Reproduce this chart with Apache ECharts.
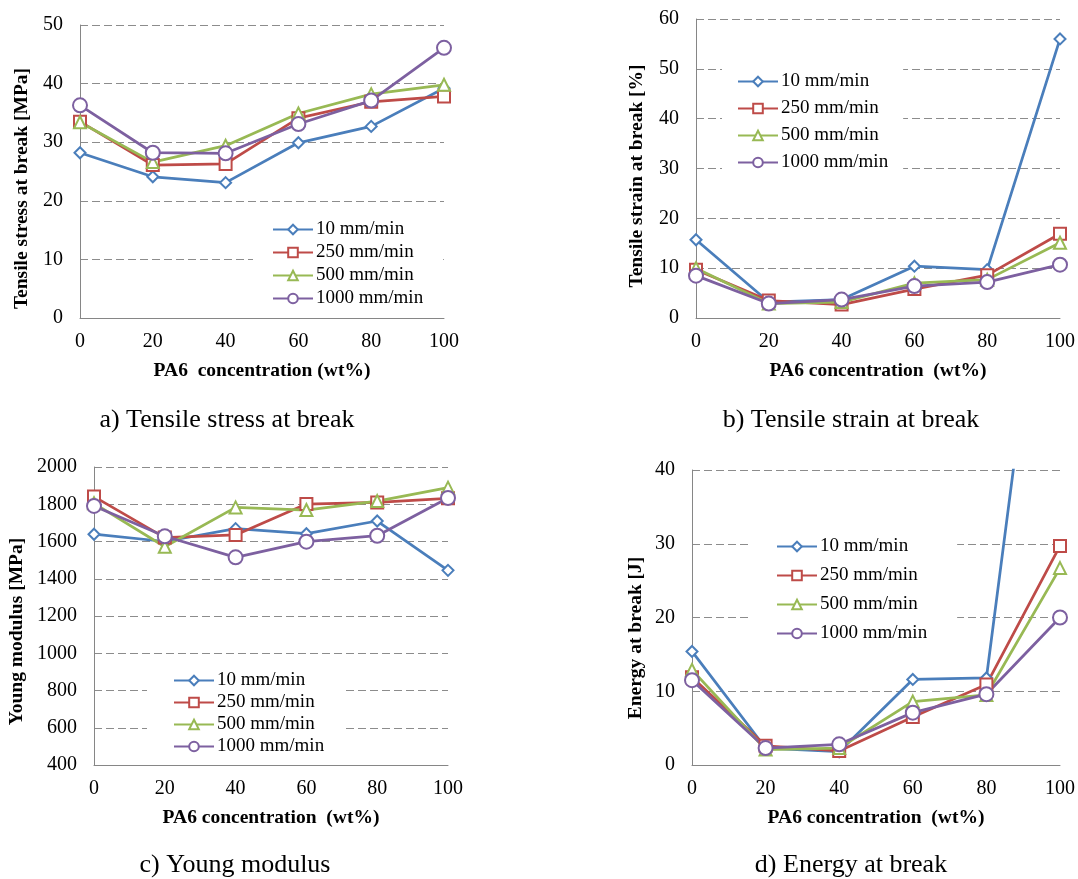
<!DOCTYPE html>
<html>
<head>
<meta charset="utf-8">
<script src="https://cdn.jsdelivr.net/npm/echarts@6/dist/echarts.min.js"></script>
<style>
  html, body { margin: 0; padding: 0; background: #fff; }
  #chart { width: 1078px; height: 879px; }
</style>
</head>
<body>
<div id="chart"></div>
<script>
// PA6 concentration (wt%)
const conc = [0, 20, 40, 60, 80, 100];
const rates = ["10 mm/min", "250 mm/min", "500 mm/min", "1000 mm/min"];

// a) tensile stress at break [MPa]
const stress10 = [28.2, 24.1, 23.1, 29.9, 32.7, 39.2];
const stress250 = [33.5, 26.1, 26.3, 34.1, 36.9, 37.8];
const stress500 = [33.4, 26.6, 29.4, 34.9, 38.2, 39.8];
const stress1000 = [36.3, 28.2, 28.1, 33.1, 37.1, 46.1];

// b) tensile strain at break [%]
const strain10 = [15.7, 3.2, 3.7, 10.4, 9.7, 56.0];
const strain250 = [9.7, 3.5, 2.7, 5.8, 8.6, 16.9];
const strain500 = [10.0, 2.9, 3.2, 7.0, 7.7, 15.1];
const strain1000 = [8.5, 2.9, 3.7, 6.4, 7.2, 10.7];

// c) young modulus [MPa]
const modulus10 = [1639, 1600, 1669, 1642, 1710, 1445];
const modulus250 = [1841, 1621, 1635, 1801, 1810, 1832];
const modulus500 = [1805, 1572, 1783, 1769, 1817, 1889];
const modulus1000 = [1791, 1628, 1515, 1599, 1631, 1834];

// d) energy at break [J] (10 mm/min at 100 runs off the top)
const energy10 = [15.4, 2.3, 1.8, 11.6, 11.8, 89.0];
const energy250 = [11.9, 2.6, 1.9, 6.5, 10.9, 29.7];
const energy500 = [12.9, 2.1, 2.3, 8.6, 9.5, 26.7];
const energy1000 = [11.5, 2.3, 2.8, 7.1, 9.6, 20.0];

const captions = ["a) Tensile stress at break", "b) Tensile strain at break", "c) Young modulus", "d) Energy at break"];

const colors = ["#4a7ebb", "#be4b48", "#98b954", "#7d60a0"];
const symbols = ["emptyDiamond", "emptyRect", "emptyTriangle", "emptyCircle"];
const symSizes = [11, 12, 12, 14];
const FONT = "'Liberation Serif', 'Times New Roman', serif";

// nameShift: pushes the rotated y title down the axis (it sits below centre in the original)
const panels = [
  { grid: { left: 80, top: 25, width: 364, height: 293 }, y: { min: 0, max: 50, interval: 10 },
    name: "Tensile stress at break [MPa]", nameGap: 48, nameShift: 34, xname: "PA6  concentration (wt%)",
    sets: [stress10, stress250, stress500, stress1000],
    legend: { left: 253, top: 216, padding: [4, 20, 4, 19], itemGap: 4 },
    cap: [227, 420] },
  { grid: { left: 696, top: 19, width: 364, height: 299 }, y: { min: 0, max: 60, interval: 10 },
    name: "Tensile strain at break [%]", nameGap: 49, nameShift: 15, xname: "PA6 concentration  (wt%)",
    sets: [strain10, strain250, strain500, strain1000],
    legend: { left: 722, top: 64, padding: [8, 15, 4, 15], itemGap: 8 },
    cap: [851, 420] },
  { grid: { left: 94, top: 467, width: 354, height: 298 }, y: { min: 400, max: 2000, interval: 200 },
    name: "Young modulus [MPa]", nameGap: 67, nameShift: 31, xname: "PA6 concentration  (wt%)",
    sets: [modulus10, modulus250, modulus500, modulus1000],
    legend: { left: 147, top: 666, padding: [5, 21, 5, 26], itemGap: 3 },
    cap: [235, 865] },
  { grid: { left: 692, top: 470, width: 368, height: 295 }, y: { min: 0, max: 40, interval: 10 },
    name: "Energy at break [J]", nameGap: 46, nameShift: 41, xname: "PA6 concentration  (wt%)",
    sets: [energy10, energy250, energy500, energy1000],
    legend: { left: 748, top: 532, padding: [5, 30, 5, 28], itemGap: 10 },
    cap: [851, 865] }
];

const axisLine = { show: true, lineStyle: { color: "#868686", width: 1 } };
const label = { color: "#000", fontFamily: FONT, fontSize: 20, formatter: (v) => String(v) };
const nameStyle = { color: "#000", fontFamily: FONT, fontSize: 19.5, fontWeight: "bold" };

const option = {
  animation: false,
  backgroundColor: "#fff",
  grid: panels.map((p) => ({ ...p.grid, containLabel: false })),
  xAxis: panels.map((p, i) => ({
    type: "value", gridIndex: i, min: 0, max: 100, interval: 20,
    axisLine, axisTick: { show: false }, splitLine: { show: false },
    axisLabel: { ...label, margin: 14 },
    name: p.xname, nameLocation: "middle", nameGap: 43, nameTextStyle: nameStyle
  })),
  yAxis: panels.map((p, i) => ({
    type: "value", gridIndex: i, ...p.y,
    axisLine, axisTick: { show: false },
    splitLine: { show: true, lineStyle: { color: "#8c8c8c", width: 1, type: [8, 4] } },
    axisLabel: { ...label, margin: 17 },
    name: p.name, nameLocation: "middle", nameRotate: 90, nameGap: p.nameGap,
    nameTextStyle: { ...nameStyle, padding: [0, p.nameShift, 0, 0] }
  })),
  legend: panels.map((p) => ({
    orient: "vertical", ...p.legend, backgroundColor: "#fff",
    itemWidth: 40, itemHeight: 12,
    textStyle: { color: "#000", fontFamily: FONT, fontSize: 19, padding: [0, 0, 0, -2] },
    data: rates
  })),
  series: [],
  graphic: panels.map((p, i) => ({
    type: "text", x: p.cap[0], y: p.cap[1],
    style: { text: captions[i], fill: "#000", font: "26px " + FONT, textAlign: "center", textVerticalAlign: "middle" }
  }))
};

panels.forEach((p, i) => {
  p.sets.forEach((vals, k) => {
    option.series.push({
      type: "line", name: rates[k], xAxisIndex: i, yAxisIndex: i,
      data: conc.map((c, j) => [c, vals[j]]),
      color: colors[k], symbol: symbols[k], symbolSize: symSizes[k],
      lineStyle: { width: 2.75, color: colors[k] },
      itemStyle: { borderWidth: 1.5 },
      clip: true
    });
  });
});

const chart = echarts.init(document.getElementById("chart"));
chart.setOption(option);
</script>
</body>
</html>
